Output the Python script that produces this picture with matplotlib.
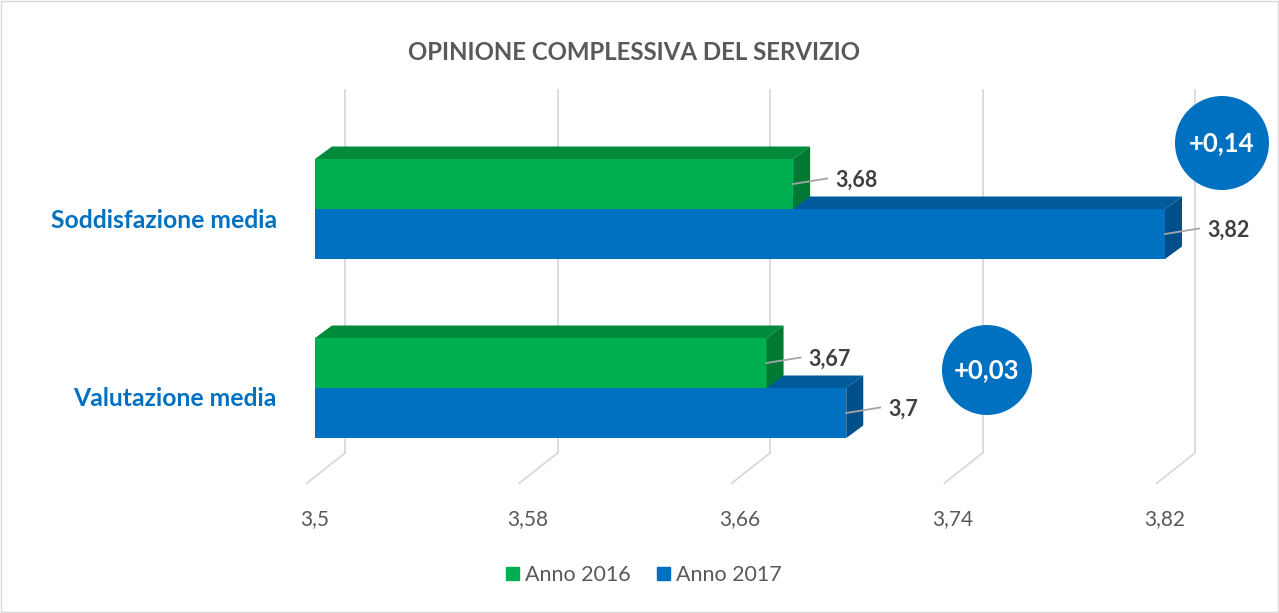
import matplotlib
matplotlib.use("Agg")
import matplotlib.pyplot as plt
import matplotlib.transforms as mtransforms
from matplotlib.patches import Polygon, Circle, Rectangle
import numpy as np

# ---------------- data ----------------
categories = ["Valutazione media", "Soddisfazione media"]
series_names = ["Anno 2016", "Anno 2017"]
values_2016 = [3.67, 3.68]
values_2017 = [3.70, 3.82]
tick_values = [3.5, 3.58, 3.66, 3.74, 3.82]
tick_labels = ["3,5", "3,58", "3,66", "3,74", "3,82"]
title = "OPINIONE COMPLESSIVA DEL SERVIZIO"

# ---------------- style ----------------
FONT = ["Lato", "DejaVu Sans"]
plt.rcParams["font.family"] = FONT
GREEN, GREEN_TOP, GREEN_SIDE = "#00B050", "#008A3C", "#007A33"
BLUE, BLUE_TOP, BLUE_SIDE = "#0070C0", "#005A9C", "#004F8A"
GRID = "#D9D9D9"
TXT = "#595959"
LBL = "#404040"

W, H = 1279, 613
fig = plt.figure(figsize=(W / 100, H / 100), dpi=100)
fig.patch.set_facecolor("white")

# axes placement in pixels (left, right, top, bottom)
ax_l, ax_r, ax_t, ax_b = 315, 1165, 90, 453
ax = fig.add_axes([ax_l / W, 1 - ax_b / H, (ax_r - ax_l) / W, (ax_b - ax_t) / H])
ax.set_xlim(tick_values[0], tick_values[-1])
# category 0 centre at y px 388, category 1 at 209
ppu_y = 388 - 209
ax.set_ylim((388 - ax_b) / ppu_y, (388 - ax_t) / ppu_y)
ax.axis("off")
ppu_x = (ax_r - ax_l) / (tick_values[-1] - tick_values[0])

def off(dx, dy):
    return mtransforms.offset_copy(ax.transData, fig=fig, x=dx, y=dy, units="dots")

# gridlines (back wall + floor diagonal)
BACK_DX = 30
y0, y1 = ax.get_ylim()
for t, lab in zip(tick_values, tick_labels):
    ax.plot([t, t], [y0, y1], color=GRID, lw=1.3, transform=off(BACK_DX, 0),
            clip_on=False, zorder=0)
    ax.plot([t + BACK_DX / ppu_x, t - 8 / ppu_x], [y0, y0 - 30 / ppu_y], color=GRID,
            lw=1.3, clip_on=False, zorder=0)
    ax.text(t, y0, lab, transform=off(0, -66), ha="center", va="center",
            fontsize=15, color=TXT)

# 3D bars
bar_h = 50 / ppu_y
ddx = 17 / ppu_x
ddy = 12.5 / ppu_y
x0 = tick_values[0]

def bar3d(yc, v, front, top, side):
    yb, yt = yc - bar_h / 2, yc + bar_h / 2
    ax.barh(yc, v - x0, left=x0, height=bar_h, color=front, lw=0, zorder=2, clip_on=False)
    ax.add_patch(Polygon([(x0, yt), (v, yt), (v + ddx, yt + ddy), (x0 + ddx, yt + ddy)],
                         closed=True, facecolor=top, lw=0, zorder=2, clip_on=False))
    ax.add_patch(Polygon([(v, yb), (v, yt), (v + ddx, yt + ddy), (v + ddx, yb + ddy)],
                         closed=True, facecolor=side, lw=0, zorder=2, clip_on=False))

def value_label(yc, v):
    ax.plot([v, v + 34 / ppu_x], [yc, yc + 5.5 / ppu_y], color="#A6A6A6", lw=1.3,
            zorder=3, clip_on=False)
    ax.annotate(f"{v:g}".replace(".", ","), xy=(v, yc), xytext=(42, 3.5),
                textcoords="offset pixels", ha="left", va="center",
                fontsize=15.5, fontweight="bold", color=LBL, annotation_clip=False)

for i, cat in enumerate(categories):
    yg = i + bar_h / 2
    yb = i - bar_h / 2
    bar3d(yb, values_2017[i], BLUE, BLUE_TOP, BLUE_SIDE)
    bar3d(yg, values_2016[i], GREEN, GREEN_TOP, GREEN_SIDE)
    value_label(yg, values_2016[i])
    value_label(yb, values_2017[i])
    ax.text(x0, i, cat, transform=off(-38, -11), ha="right", va="center",
            fontsize=17.8, fontweight="bold", color=BLUE)

# difference bubbles
bubble_px = {1: (1222, 143, 47), 0: (987, 370, 45)}
for i in range(len(categories)):
    cx, cy, r = bubble_px[i]
    d = values_2017[i] - values_2016[i]
    circ = Circle((cx / 100, (H - cy) / 100), r / 100, transform=fig.dpi_scale_trans,
                  facecolor=BLUE, edgecolor="none", zorder=5)
    fig.add_artist(circ)
    fig.text(cx / W, 1 - cy / H, "+" + f"{d:.2f}".replace(".", ","), ha="center",
             va="center", fontsize=18.5, fontweight="bold", color="white", zorder=6)

# title
fig.text(634 / W, 1 - 53 / H, title, ha="center", va="center", fontsize=17.3,
         fontweight="bold", color=TXT)

# legend
handles = [Rectangle((0, 0), 1, 1, color=GREEN), Rectangle((0, 0), 1, 1, color=BLUE)]
fig.legend(handles, series_names, loc="center", bbox_to_anchor=(644 / W, 1 - 575 / H),
           ncol=2, frameon=False, fontsize=15.5, labelcolor=TXT, handlelength=0.6,
           handleheight=0.6, handletextpad=0.3, columnspacing=1.2)

# chart border
fig.add_artist(Rectangle((1 / W, 1 / H), 1 - 2 / W, 1 - 2 / H, transform=fig.transFigure,
                         facecolor="none", edgecolor=GRID, lw=1))

fig.savefig("out.png", dpi=100, facecolor="white")
